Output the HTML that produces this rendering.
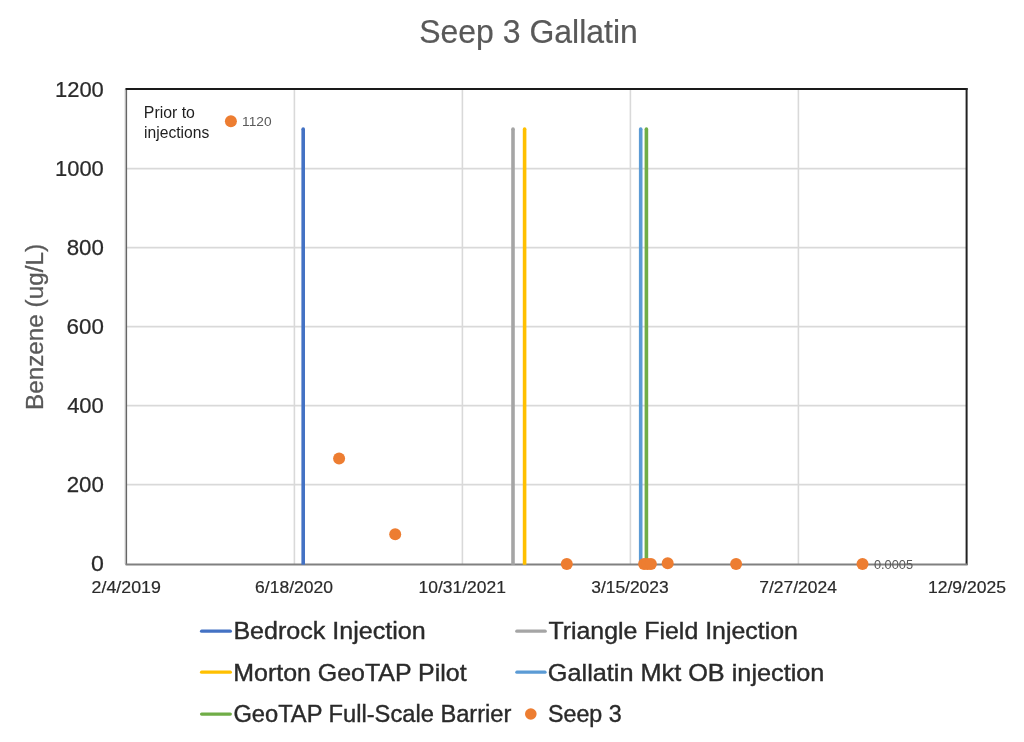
<!DOCTYPE html>
<html><head><meta charset="utf-8"><title>Seep 3 Gallatin</title>
<style>html,body{margin:0;padding:0;background:#fff;}svg{display:block;will-change:transform;}text{font-family:"Liberation Sans",sans-serif;}</style>
</head><body>
<svg width="1024" height="742" viewBox="0 0 1024 742">
<rect width="1024" height="742" fill="#fff"/>
<line x1="126.4" x2="966.4" y1="484.60" y2="484.60" stroke="#D9D9D9" stroke-width="1.6"/>
<line x1="126.4" x2="966.4" y1="405.60" y2="405.60" stroke="#D9D9D9" stroke-width="1.6"/>
<line x1="126.4" x2="966.4" y1="326.60" y2="326.60" stroke="#D9D9D9" stroke-width="1.6"/>
<line x1="126.4" x2="966.4" y1="247.60" y2="247.60" stroke="#D9D9D9" stroke-width="1.6"/>
<line x1="126.4" x2="966.4" y1="168.60" y2="168.60" stroke="#D9D9D9" stroke-width="1.6"/>
<line x1="294.4" x2="294.4" y1="89" y2="564" stroke="#D9D9D9" stroke-width="1.6"/>
<line x1="462.4" x2="462.4" y1="89" y2="564" stroke="#D9D9D9" stroke-width="1.6"/>
<line x1="630.4" x2="630.4" y1="89" y2="564" stroke="#D9D9D9" stroke-width="1.6"/>
<line x1="798.4" x2="798.4" y1="89" y2="564" stroke="#D9D9D9" stroke-width="1.6"/>
<rect x="124.2" y="89" width="1.4" height="475" fill="#e6e6e6"/>
<rect x="125.6" y="88" width="1.5" height="477" fill="#666"/>
<rect x="125.6" y="88" width="842" height="2" fill="#1a1a1a"/>
<rect x="965.6" y="88" width="2" height="477" fill="#222"/>
<rect x="125.6" y="563.5" width="842" height="2" fill="#808080"/>
<path d="M303.2 564.7 V129.10" stroke="#4472C4" stroke-width="3.6" fill="none"/>
<circle cx="303.2" cy="129.10" r="1.8" fill="#4472C4"/>
<path d="M513.0 564.7 V129.10" stroke="#A5A5A5" stroke-width="3.6" fill="none"/>
<circle cx="513.0" cy="129.10" r="1.8" fill="#A5A5A5"/>
<path d="M524.6 564.7 V129.10" stroke="#FFC000" stroke-width="3.6" fill="none"/>
<circle cx="524.6" cy="129.10" r="1.8" fill="#FFC000"/>
<path d="M640.7 564.7 V129.10" stroke="#5B9BD5" stroke-width="3.6" fill="none"/>
<circle cx="640.7" cy="129.10" r="1.8" fill="#5B9BD5"/>
<path d="M646.4 564.7 V129.10" stroke="#70AD47" stroke-width="3.6" fill="none"/>
<circle cx="646.4" cy="129.10" r="1.8" fill="#70AD47"/>
<circle cx="230.9" cy="121.2" r="6" fill="#ED7D31"/>
<circle cx="339.1" cy="458.6" r="6" fill="#ED7D31"/>
<circle cx="395.2" cy="534.3" r="6" fill="#ED7D31"/>
<circle cx="566.8" cy="563.9" r="6" fill="#ED7D31"/>
<circle cx="644.1" cy="563.9" r="6" fill="#ED7D31"/>
<circle cx="647.5" cy="563.9" r="6" fill="#ED7D31"/>
<circle cx="650.9" cy="563.9" r="6" fill="#ED7D31"/>
<circle cx="667.7" cy="563.2" r="6" fill="#ED7D31"/>
<circle cx="736.1" cy="563.9" r="6" fill="#ED7D31"/>
<circle cx="862.5" cy="563.9" r="6" fill="#ED7D31"/>
<line x1="201.6" x2="230.3" y1="631.2" y2="631.2" stroke="#4472C4" stroke-width="3.3" stroke-linecap="round"/>
<line x1="516.8000000000001" x2="545.1999999999999" y1="631.2" y2="631.2" stroke="#A5A5A5" stroke-width="3.3" stroke-linecap="round"/>
<line x1="201.6" x2="230.3" y1="672.2" y2="672.2" stroke="#FFC000" stroke-width="3.3" stroke-linecap="round"/>
<line x1="516.9" x2="545.0" y1="672.2" y2="672.2" stroke="#5B9BD5" stroke-width="3.3" stroke-linecap="round"/>
<line x1="201.6" x2="230.3" y1="714.1" y2="714.1" stroke="#70AD47" stroke-width="3.3" stroke-linecap="round"/>
<circle cx="530.8" cy="714" r="5.8" fill="#ED7D31"/>
<text transform="translate(419.26 42.50) scale(0.9747 1)" font-size="32.8" fill="#595959" stroke="#595959" stroke-width="0.2">Seep 3 Gallatin</text>
<text transform="translate(54.95 96.55) scale(0.9666 1)" font-size="22.75" fill="#2a2a2a" stroke="#2a2a2a" stroke-width="0.25">1200</text>
<text transform="translate(55.05 175.55) scale(0.9645 1)" font-size="22.75" fill="#2a2a2a" stroke="#2a2a2a" stroke-width="0.25">1000</text>
<text transform="translate(66.70 254.55) scale(0.9790 1)" font-size="22.75" fill="#2a2a2a" stroke="#2a2a2a" stroke-width="0.25">800</text>
<text transform="translate(66.58 333.55) scale(0.9821 1)" font-size="22.75" fill="#2a2a2a" stroke="#2a2a2a" stroke-width="0.25">600</text>
<text transform="translate(67.15 412.55) scale(0.9668 1)" font-size="22.75" fill="#2a2a2a" stroke="#2a2a2a" stroke-width="0.25">400</text>
<text transform="translate(66.69 491.55) scale(0.9793 1)" font-size="22.75" fill="#2a2a2a" stroke="#2a2a2a" stroke-width="0.25">200</text>
<text transform="translate(91.07 570.55) scale(1.0179 1)" font-size="22.75" fill="#2a2a2a" stroke="#2a2a2a" stroke-width="0.25">0</text>
<text transform="translate(91.61 592.50) scale(1.0731 1)" font-size="16.6" fill="#2a2a2a" stroke="#2a2a2a" stroke-width="0.2">2/4/2019</text>
<text transform="translate(255.12 592.50) scale(1.0556 1)" font-size="16.6" fill="#2a2a2a" stroke="#2a2a2a" stroke-width="0.2">6/18/2020</text>
<text transform="translate(418.59 592.50) scale(1.0517 1)" font-size="16.6" fill="#2a2a2a" stroke="#2a2a2a" stroke-width="0.2">10/31/2021</text>
<text transform="translate(591.20 592.50) scale(1.0489 1)" font-size="16.6" fill="#2a2a2a" stroke="#2a2a2a" stroke-width="0.2">3/15/2023</text>
<text transform="translate(759.33 592.50) scale(1.0504 1)" font-size="16.6" fill="#2a2a2a" stroke="#2a2a2a" stroke-width="0.2">7/27/2024</text>
<text transform="translate(927.94 592.50) scale(1.0560 1)" font-size="16.6" fill="#2a2a2a" stroke="#2a2a2a" stroke-width="0.2">12/9/2025</text>
<text transform="translate(143.83 117.60) scale(1.0174 1)" font-size="15.6" fill="#1e1e1e">Prior to</text>
<text transform="translate(144.08 137.50) scale(1.0037 1)" font-size="15.6" fill="#1e1e1e">injections</text>
<text transform="translate(242.07 125.60) scale(1.0628 1)" font-size="12.9" fill="#595959">1120</text>
<text transform="translate(873.89 568.50) scale(1.0164 1)" font-size="12.6" fill="#595959">0.0005</text>
<text transform="translate(233.39 638.90) scale(1.0241 1)" font-size="24.5" fill="#2a2a2a" stroke="#2a2a2a" stroke-width="0.4">Bedrock Injection</text>
<text transform="translate(548.38 638.90) scale(1.0164 1)" font-size="24.5" fill="#2a2a2a" stroke="#2a2a2a" stroke-width="0.4">Triangle Field Injection</text>
<text transform="translate(233.30 680.70) scale(1.0180 1)" font-size="24.5" fill="#2a2a2a" stroke="#2a2a2a" stroke-width="0.4">Morton GeoTAP Pilot</text>
<text transform="translate(547.84 680.70) scale(1.0318 1)" font-size="24.5" fill="#2a2a2a" stroke="#2a2a2a" stroke-width="0.4">Gallatin Mkt OB injection</text>
<text transform="translate(233.42 722.30) scale(0.9668 1)" font-size="24.5" fill="#2a2a2a" stroke="#2a2a2a" stroke-width="0.4">GeoTAP Full-Scale Barrier</text>
<text transform="translate(547.95 722.30) scale(0.9488 1)" font-size="24.5" fill="#2a2a2a" stroke="#2a2a2a" stroke-width="0.4">Seep 3</text>
<text transform="translate(42.60 409.94) rotate(-90) scale(1.0119 1)" font-size="24.0" fill="#595959" stroke="#595959" stroke-width="0.3">Benzene (ug/L)</text>
</svg>
</body></html>
